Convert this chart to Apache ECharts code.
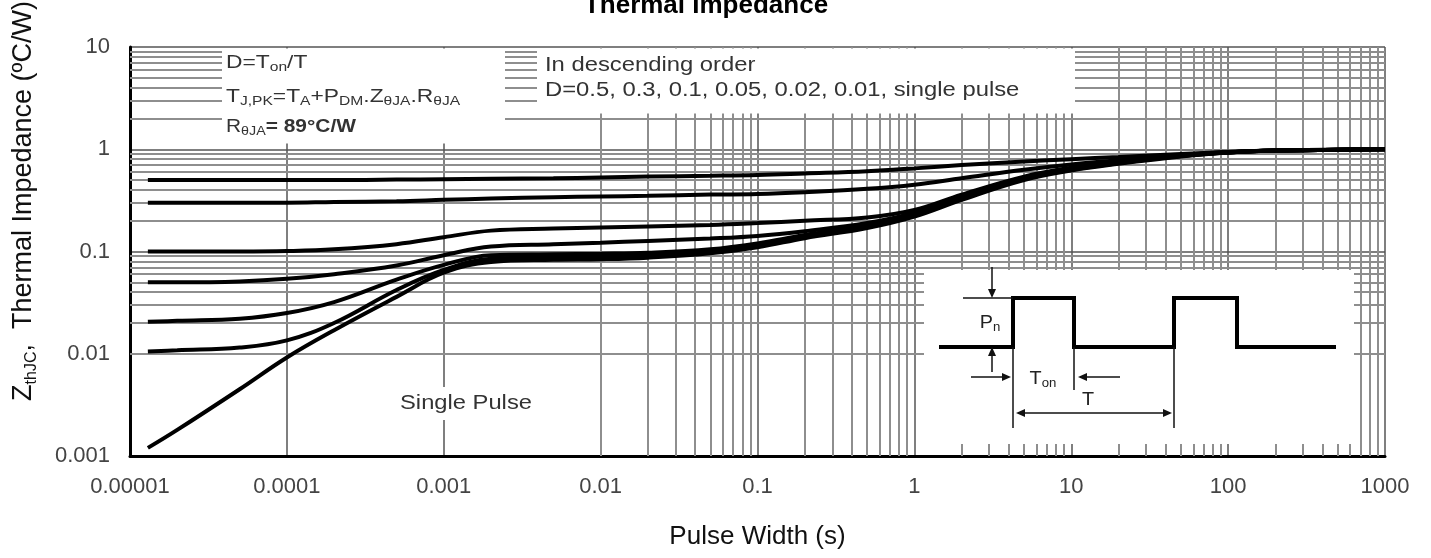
<!DOCTYPE html>
<html><head><meta charset="utf-8">
<script src="https://cdn.jsdelivr.net/npm/echarts@6/dist/echarts.min.js"></script>
<style>html,body{margin:0;padding:0;background:#fff}#c{width:1431px;height:558px}</style>
</head><body><div id="c"></div>
<script>
// ---- data ----
const xValues = [1.3e-5, 2e-5, 5e-5, 1e-4, 2e-4, 5e-4, 1e-3, 2e-3, 5e-3, 1e-2, 2e-2, 5e-2, 0.1, 0.2, 0.5, 1, 2, 5, 10, 20, 50, 100, 200, 500, 1000];
const d05    = [0.5,0.5,0.5,0.5,0.5,0.505,0.51,0.515,0.52,0.53,0.54,0.55,0.56,0.58,0.61,0.65,0.70,0.76,0.8,0.84,0.9,0.94,0.97,0.99,1.0];
const d03    = [0.3,0.3,0.3,0.3,0.305,0.31,0.32,0.33,0.34,0.345,0.35,0.36,0.365,0.38,0.41,0.45,0.52,0.63,0.71,0.78,0.88,0.94,0.97,0.99,1.0];
const d01    = [0.1,0.1,0.1,0.101,0.105,0.118,0.138,0.16,0.168,0.172,0.176,0.182,0.19,0.2,0.215,0.255,0.36,0.54,0.66,0.76,0.87,0.93,0.97,0.99,1.0];
const d005   = [0.05,0.05,0.051,0.054,0.06,0.073,0.092,0.112,0.118,0.122,0.127,0.134,0.142,0.158,0.19,0.24,0.35,0.53,0.65,0.75,0.87,0.93,0.97,0.99,1.0];
const d002   = [0.0205,0.021,0.022,0.025,0.032,0.053,0.074,0.092,0.094,0.095,0.097,0.105,0.12,0.145,0.18,0.23,0.34,0.52,0.64,0.74,0.86,0.93,0.97,0.99,1.0];
const d001   = [0.0105,0.0108,0.0115,0.0135,0.02,0.042,0.066,0.085,0.088,0.089,0.091,0.1,0.115,0.14,0.175,0.225,0.33,0.51,0.63,0.73,0.86,0.93,0.97,0.99,1.0];
const singlePulse = [0.0012,0.0018,0.0045,0.0092,0.017,0.036,0.062,0.079,0.083,0.084,0.087,0.096,0.11,0.135,0.17,0.22,0.32,0.5,0.62,0.72,0.85,0.93,0.97,0.99,1.0];
const seriesNames = ['D=0.5','D=0.3','D=0.1','D=0.05','D=0.02','D=0.01','Single Pulse'];
const xTickLabels = ['0.00001','0.0001','0.001','0.01','0.1','1','10','100','1000'];
const yTickLabels = ['0.001','0.01','0.1','1','10'];

// ---- chart ----
const FONT = '"Liberation Sans", Arial, Helvetica, sans-serif';
const chart = echarts.init(document.getElementById('c'));

const minorX = [];
for (let e = -5; e < 3; e++) for (let k = 2; k < 10; k++) minorX.push(k * Math.pow(10, e));
const minorY = [];
for (let e = -3; e < 1; e++) for (let k = 2; k < 10; k++) minorY.push(k * Math.pow(10, e));

const curves = [d05, d03, d01, d005, d002, d001, singlePulse];
const curveSeries = curves.map((arr, s) => ({
  name: seriesNames[s], type: 'line', z: 10, smooth: 0.4, symbol: 'none',
  lineStyle: { color: '#000', width: 4 },
  data: xValues.map((x, i) => [x, arr[i]])
}));

const gridSeries = {
  type: 'line', z: 1, silent: true, symbol: 'none',
  data: [[1e-5, 1e-3]], lineStyle: { opacity: 0 },
  markLine: {
    silent: true, z: 1, symbol: ['none', 'none'], label: { show: false },
    lineStyle: { color: '#8e8e8e', width: 2, type: 'solid' },
    emphasis: { disabled: true },
    data: minorX.map(v => ({ xAxis: v })).concat(minorY.map(v => ({ yAxis: v })))
  }
};

function txt(x, y, text, rich, extra, sx) {
  return { type: 'text', x: x, y: y, z: 51, scaleX: sx || 1,
    style: Object.assign({ text: text, rich: rich, fontFamily: FONT, fill: '#333', align: 'left', verticalAlign: 'middle' }, extra || {}) };
}
function seg(x1, y1, x2, y2, w) {
  return { type: 'line', z: 52, shape: { x1: x1, y1: y1, x2: x2, y2: y2 }, style: { stroke: '#111', lineWidth: w || 1.5 } };
}
function head(x, y, dx, dy) {
  const L = 9, W = 4, px = -dy, py = dx;
  return { type: 'polygon', z: 52, shape: { points: [[x, y], [x - dx * L + px * W, y - dy * L + py * W], [x - dx * L - px * W, y - dy * L - py * W]] }, style: { fill: '#111' } };
}
function rect(x, y, w, h) {
  return { type: 'rect', z: 50, shape: { x: x, y: y, width: w, height: h }, style: { fill: '#fff' } };
}

const sub = { n: { fontSize: 19, lineHeight: 22, fontFamily: FONT, fill: '#333' }, s: { fontSize: 13, lineHeight: 12, verticalAlign: 'bottom', fontFamily: FONT, fill: '#333' }, b: { fontSize: 19, fontWeight: 'bold', lineHeight: 22, fontFamily: FONT, fill: '#333' } };
const insetRich = { n: { fontSize: 18, lineHeight: 22, fontFamily: FONT, fill: '#222' }, s: { fontSize: 12, lineHeight: 12, verticalAlign: 'bottom', fontFamily: FONT, fill: '#222' } };

const graphics = [
  // title
  { type: 'text', x: 706, y: 6, z: 60, style: { text: 'Thermal Impedance', font: 'bold 26px ' + FONT, fill: '#000', align: 'center', verticalAlign: 'middle' } },
  // y axis name
  { type: 'text', x: 24, y: 201, rotation: Math.PI / 2, z: 60,
    style: { text: '{a|Z}{b|thJC}{a|,  Thermal Impedance (ºC/W)}', align: 'center', verticalAlign: 'middle',
      rich: { a: { fontSize: 27, lineHeight: 32, fontFamily: FONT, fill: '#111' }, b: { fontSize: 16, lineHeight: 16, verticalAlign: 'bottom', fontFamily: FONT, fill: '#111' } } } },
  // white boxes
  rect(222, 48.5, 283, 95),
  rect(537, 48.5, 538, 65),
  rect(383, 387, 167, 33),
  rect(924, 270, 430, 174),
  // box 1 text
  txt(226, 63, '{n|D=T}{s|on}{n|/T}', sub, null, 1.2),
  txt(226, 97, '{n|T}{s|J,PK}{n|=T}{s|A}{n|+P}{s|DM}{n|.Z}{s|θJA}{n|.R}{s|θJA}', sub, null, 1.2),
  txt(226, 127, '{n|R}{s|θJA}{b|= 89°C/W}', sub, null, 1.1),
  // box 2 text
  txt(545, 65, 'In descending order', null, { fontSize: 20 }, 1.19),
  txt(545, 90, 'D=0.5, 0.3, 0.1, 0.05, 0.02, 0.01, single pulse', null, { fontSize: 20 }, 1.19),
  // single pulse label
  txt(466, 403, 'Single Pulse', null, { fontSize: 21, align: 'center' }, 1.13),
  // inset waveform
  { type: 'polyline', z: 52, shape: { points: [[939, 347], [1013, 347], [1013, 298], [1074, 298], [1074, 347], [1174, 347], [1174, 298], [1237, 298], [1237, 347], [1336, 347]] }, style: { stroke: '#000', lineWidth: 4, fill: null } },
  seg(963, 298, 1013, 298),
  seg(992, 267, 992, 296), head(992, 298, 0, 1),
  seg(992, 372, 992, 349), head(992, 347, 0, -1),
  seg(1013, 347, 1013, 428), seg(1074, 347, 1074, 390), seg(1174, 347, 1174, 428),
  seg(971, 377, 1009, 377), head(1011, 377, 1, 0),
  seg(1120, 377, 1080, 377), head(1078, 377, -1, 0),
  seg(1018, 413, 1170, 413), head(1016, 413, -1, 0), head(1172, 413, 1, 0),
  txt(990, 323, '{n|P}{s|n}', insetRich, { align: 'center' }, 1.1),
  txt(1043, 379, '{n|T}{s|on}', insetRich, { align: 'center' }, 1.1),
  txt(1088, 400, '{n|T}', insetRich, { align: 'center' }, 1.1)
];

chart.setOption({
  animation: false,
  backgroundColor: '#fff',
  grid: { left: 130, right: 46, top: 47, bottom: 102, containLabel: false },
  xAxis: {
    type: 'log', logBase: 10, min: 1e-5, max: 1000,
    name: 'Pulse Width (s)', nameLocation: 'middle', nameGap: 68,
    nameTextStyle: { fontSize: 26, fontFamily: FONT, color: '#111' },
    axisLine: { show: true, onZero: false, lineStyle: { color: '#000', width: 3 } },
    axisTick: { show: false },
    axisLabel: { fontSize: 22, fontFamily: FONT, color: '#444', margin: 20,
      formatter: v => xTickLabels[Math.round(Math.log10(v)) + 5] },
    splitLine: { show: true, lineStyle: { color: '#555', width: 1.5 } }
  },
  yAxis: {
    type: 'log', logBase: 10, min: 1e-3, max: 10,
    axisLine: { show: true, onZero: false, lineStyle: { color: '#000', width: 3 } },
    axisTick: { show: false },
    axisLabel: { fontSize: 22, fontFamily: FONT, color: '#444', margin: 20,
      formatter: v => yTickLabels[Math.round(Math.log10(v)) + 3] },
    splitLine: { show: true, lineStyle: { color: '#555', width: 1.5 } }
  },
  graphic: graphics,
  series: [gridSeries].concat(curveSeries)
});
</script></body></html>
